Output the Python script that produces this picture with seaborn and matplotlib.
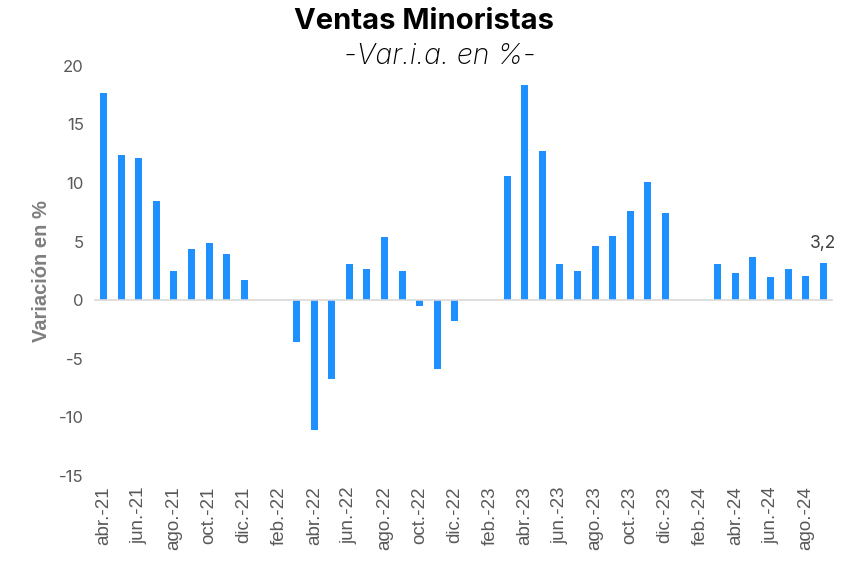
import numpy as np
import pandas as pd
import seaborn as sns
import matplotlib.pyplot as plt
from matplotlib import font_manager as fm
from matplotlib.ticker import FixedLocator

# datos: ventas minoristas, var. i.a. en %
meses = ['abr.-21', 'may.-21', 'jun.-21', 'jul.-21', 'ago.-21', 'sep.-21', 'oct.-21', 'nov.-21', 'dic.-21',
         'ene.-22', 'feb.-22', 'mar.-22', 'abr.-22', 'may.-22', 'jun.-22', 'jul.-22', 'ago.-22', 'sep.-22',
         'oct.-22', 'nov.-22', 'dic.-22', 'ene.-23', 'feb.-23', 'mar.-23', 'abr.-23', 'may.-23', 'jun.-23',
         'jul.-23', 'ago.-23', 'sep.-23', 'oct.-23', 'nov.-23', 'dic.-23', 'ene.-24', 'feb.-24', 'mar.-24',
         'abr.-24', 'may.-24', 'jun.-24', 'jul.-24', 'ago.-24', 'sep.-24']
variacion = [17.7, 12.4, 12.1, 8.5, 2.5, 4.4, 4.9, 3.9, 1.7,
             np.nan, np.nan, -3.6, -11.1, -6.7, 3.1, 2.7, 5.4, 2.5,
             -0.5, -5.9, -1.8, np.nan, np.nan, 10.6, 18.4, 12.7, 3.1,
             2.5, 4.6, 5.5, 7.6, 10.1, 7.4, np.nan, np.nan, 3.1,
             2.3, 3.7, 2.0, 2.7, 2.1, 3.2]
etiquetas = meses[::2]

df = pd.DataFrame({'mes': meses, 'variacion': variacion})

sns.set_style('white')
plt.rcParams['font.family'] = ['Inter', 'DejaVu Sans']
plt.rcParams['axes.unicode_minus'] = False

# fuente tipo Arial (regular, no Narrow) para las etiquetas de meses
arial = [f for f in fm.findSystemFonts() if f.endswith('LiberationSans-Regular.ttf')]
if arial:
    fp_meses = fm.FontProperties(fname=arial[0], size=13.5)
else:
    fp_meses = fm.FontProperties(family='DejaVu Sans', size=12)

fig = plt.figure(figsize=(8.48, 5.62), dpi=100)
ax = fig.add_axes([0.112, 0.153, 0.869, 0.730])

sns.barplot(data=df, x='mes', y='variacion', order=meses, color='#1E90FF',
            width=0.4, errorbar=None, saturation=1, linewidth=0, ax=ax)

ax.set_xlim(-0.5, len(meses) - 0.5)
ax.set_ylim(-15, 20)
ax.set_yticks(range(-15, 21, 5))
ax.tick_params(axis='y', length=0, labelsize=12, labelcolor='#595959', pad=8)

for s in ['top', 'right', 'left']:
    ax.spines[s].set_visible(False)
ax.spines['bottom'].set_position(('data', 0))
ax.spines['bottom'].set_color('#d9d9d9')
ax.spines['bottom'].set_linewidth(1.2)

ax.xaxis.set_major_locator(FixedLocator(range(0, len(meses), 2)))
ax.set_xticklabels(etiquetas, rotation=90, fontproperties=fp_meses)
ax.xaxis.set_minor_locator(FixedLocator(np.arange(-0.5, len(meses), 2)))
ax.tick_params(axis='x', which='major', length=0, labelcolor='#595959', pad=134)
ax.tick_params(axis='x', which='minor', length=5, width=1, color='#d9d9d9', direction='out')

ax.set_xlabel('')
ax.set_ylabel('Variación en %', fontsize=14.5, fontweight='bold', color='#7f7f7f',
              family='Liberation Sans', labelpad=6)

# etiqueta del ultimo dato
ult = len(meses) - 1
ax.annotate(f"{variacion[ult]:.1f}".replace('.', ','), (ult, variacion[ult]),
            xytext=(0, 8), textcoords='offset points', ha='center', va='bottom',
            fontsize=12.5, color='#404040')

fig.text(0.5, 0.962, 'Ventas Minoristas', ha='center', va='center',
         fontsize=21, fontweight='bold', color='black')
fig.text(0.519, 0.9, '-Var.i.a. en %-', ha='center', va='center',
         fontsize=20.5, style='italic', fontweight='light', color='black')

fig.savefig('out.png', dpi=100)
